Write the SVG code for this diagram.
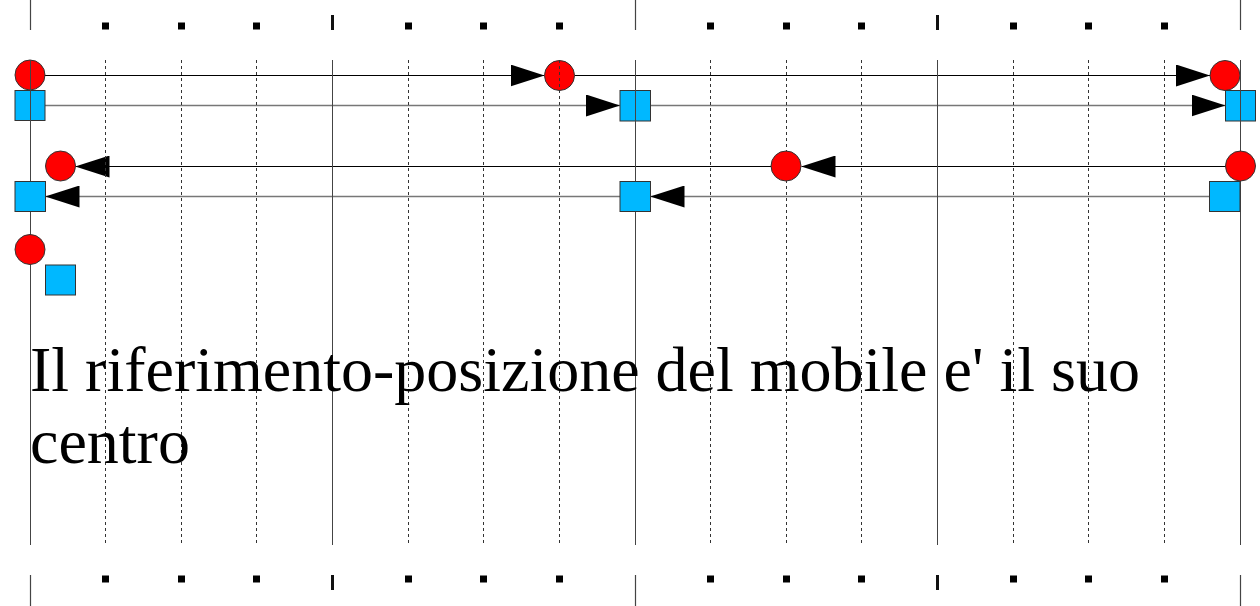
<svg xmlns="http://www.w3.org/2000/svg" width="1260" height="606" viewBox="0 0 1260 606">
<style>
.bg{fill:#ffffff}
.solid{stroke:#444444;stroke-width:1;fill:none}
.dash{stroke:#333333;stroke-width:1;stroke-dasharray:3,3;fill:none}
.long{stroke:#444444;stroke-width:1.2;fill:none}
.thick{fill:#111111}
.dot{fill:#000000}
.circ{fill:#ff0000;stroke:#333333;stroke-width:1}
.sq{fill:#00b8ff;stroke:#333333;stroke-width:1}
.c1{stroke:#000000;stroke-width:1.2;fill:none;marker-end:url(#ah)}
.c2{stroke:#777777;stroke-width:1.5;fill:none;marker-end:url(#ah)}
.txt{font-family:"Liberation Serif","Times New Roman",serif;font-size:64px;fill:#000000}
</style>
<defs>
<marker id="ah" viewBox="0 0 34 22" refX="34" refY="11" markerWidth="34" markerHeight="22" markerUnits="userSpaceOnUse" orient="auto">
<path d="M0,0 L34,11 L0,22 z" fill="#000000"/>
</marker>
</defs>
<rect class="bg" x="0" y="0" width="1260" height="606"/>

<!-- connectors -->
<g id="connectors">
<path class="c1" d="M30,75.5 L544.5,75.5"/>
<path class="c1" d="M574.5,75.5 L1210,75.5"/>
<path class="c2" d="M30,105.5 L620,105.5"/>
<path class="c2" d="M650.5,105.5 L1225.5,105.5"/>
<path class="c1" d="M1240.5,166.5 L801.5,166.5"/>
<path class="c1" d="M771,166.5 L75.5,166.5"/>
<path class="c2" d="M1209.5,196.5 L650.5,196.5"/>
<path class="c2" d="M620,196.5 L45.5,196.5"/>
</g>

<!-- top row nodes -->
<g id="n1"><circle class="circ" cx="30" cy="75" r="15"/></g>
<g id="n2"><rect class="sq" x="15" y="90.5" width="30" height="30"/></g>
<g id="n3"><circle class="circ" cx="559.5" cy="75.5" r="15"/></g>
<g id="n4"><rect class="sq" x="620" y="90.5" width="30.5" height="30.5"/></g>
<g id="n5"><circle class="circ" cx="1225" cy="75.5" r="15"/></g>
<g id="n6"><rect class="sq" x="1225.5" y="90.5" width="30" height="30.5"/></g>

<!-- grid -->
<g id="grid">
<path class="solid" d="M30.5,60 V545 M332.5,60 V545 M635.5,60 V545 M937.5,60 V545 M1240.5,60 V545"/>
<path class="dash" d="M105.5,60 V545 M181.5,60 V545 M256.5,60 V545 M408.5,60 V545 M483.5,60 V545 M559.5,60 V545 M710.5,60 V545 M786.5,60 V545 M861.5,60 V545 M1013.5,60 V545 M1088.5,60 V545 M1164.5,60 V545"/>
</g>

<!-- rulers -->
<g id="ruler-top">
<path class="long" d="M30.5,0 V30 M635.5,0 V30 M1240.5,0 V30"/>
<rect class="thick" x="331" y="15" width="3" height="15"/>
<rect class="thick" x="936" y="15" width="3" height="15"/>
<rect class="dot" x="102" y="22.5" width="7" height="7"/>
<rect class="dot" x="178" y="22.5" width="7" height="7"/>
<rect class="dot" x="253" y="22.5" width="7" height="7"/>
<rect class="dot" x="405" y="22.5" width="7" height="7"/>
<rect class="dot" x="480" y="22.5" width="7" height="7"/>
<rect class="dot" x="556" y="22.5" width="7" height="7"/>
<rect class="dot" x="707" y="22.5" width="7" height="7"/>
<rect class="dot" x="783" y="22.5" width="7" height="7"/>
<rect class="dot" x="858" y="22.5" width="7" height="7"/>
<rect class="dot" x="1010" y="22.5" width="7" height="7"/>
<rect class="dot" x="1085" y="22.5" width="7" height="7"/>
<rect class="dot" x="1161" y="22.5" width="7" height="7"/>
</g>
<g id="ruler-bottom">
<path class="long" d="M30.5,575 V606 M635.5,575 V606 M1240.5,575 V606"/>
<rect class="thick" x="331" y="575" width="3" height="15"/>
<rect class="thick" x="936" y="575" width="3" height="15"/>
<rect class="dot" x="102" y="575.5" width="7" height="7"/>
<rect class="dot" x="178" y="575.5" width="7" height="7"/>
<rect class="dot" x="253" y="575.5" width="7" height="7"/>
<rect class="dot" x="405" y="575.5" width="7" height="7"/>
<rect class="dot" x="480" y="575.5" width="7" height="7"/>
<rect class="dot" x="556" y="575.5" width="7" height="7"/>
<rect class="dot" x="707" y="575.5" width="7" height="7"/>
<rect class="dot" x="783" y="575.5" width="7" height="7"/>
<rect class="dot" x="858" y="575.5" width="7" height="7"/>
<rect class="dot" x="1010" y="575.5" width="7" height="7"/>
<rect class="dot" x="1085" y="575.5" width="7" height="7"/>
<rect class="dot" x="1161" y="575.5" width="7" height="7"/>
</g>

<!-- lower rows nodes -->
<g id="n7"><circle class="circ" cx="1240.5" cy="166" r="15"/></g>
<g id="n8"><rect class="sq" x="1209.5" y="181.5" width="30.5" height="30"/></g>
<g id="n9"><circle class="circ" cx="786" cy="166" r="15"/></g>
<g id="n10"><rect class="sq" x="620" y="181.5" width="30.5" height="30"/></g>
<g id="n11"><circle class="circ" cx="60.5" cy="166" r="15"/></g>
<g id="n12"><rect class="sq" x="15" y="181.5" width="30.5" height="30"/></g>
<g id="n13"><circle class="circ" cx="30" cy="249.5" r="15"/></g>
<g id="n14"><rect class="sq" x="45.5" y="265" width="30" height="30"/></g>

<g id="caption">
<text class="txt" x="30" y="390.5">Il riferimento-posizione del mobile e' il suo</text>
<text class="txt" x="30" y="463">centro</text>
</g>
</svg>
